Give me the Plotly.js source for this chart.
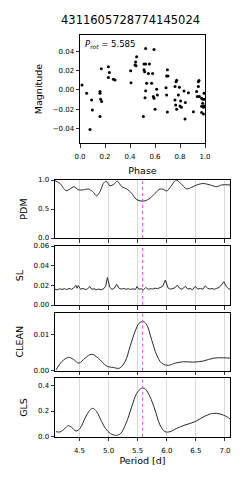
<!DOCTYPE html>
<html>
<head>
<meta charset="utf-8">
<script src="https://cdn.plot.ly/plotly-3.0.1.min.js"></script>
<style>html,body{margin:0;padding:0;background:#fff;}#chart{width:249px;height:480px;}</style>
</head>
<body>
<div id="chart"></div>
<script>
// ---- data ----
const titleText = "4311605728774145024";
const prot = 5.585;

const phase = [0.016,0.053,0.08,0.093,0.099,0.16,0.16,0.165,0.173,0.16,0.17,0.227,0.235,0.227,0.267,0.28,
  0.405,0.408,0.44,0.445,0.453,0.448,
  0.507,0.512,0.525,0.512,0.517,0.525,0.52,0.525,0.533,0.547,0.555,0.573,0.581,0.592,0.587,0.592,0.6,0.613,0.619,
  0.693,0.699,0.688,0.693,0.699,0.704,
  0.76,0.768,0.773,0.76,0.765,0.773,0.787,0.795,0.8,0.805,0.811,0.832,0.84,0.843,0.867,0.907,
  0.933,0.939,0.947,0.947,0.952,0.955,0.973,0.973,0.973,0.981,0.981,0.987,0.987,0.992,0.992,0.995];
const magnitude = [0.0052,-0.0035,-0.041,-0.0104,-0.0207,-0.0017,-0.0035,-0.0097,-0.012,-0.0276,0.022,0.024,0.018,0.013,0.011,0.0104,
  0.020,0.0076,0.026,0.029,0.0345,0.025,
  -0.0276,0.027,0.043,0.021,0.019,0.027,-0.008,-0.0007,0.0069,0.017,0.027,0.0069,0.017,0.042,-0.0069,-0.0086,-0.020,0.0007,-0.0052,
  0.0145,0.021,0.0024,-0.0052,-0.0228,0.0145,
  0.0035,0.0086,0.010,-0.0104,-0.0155,-0.020,-0.0052,0.0028,-0.0166,-0.0114,-0.018,-0.001,-0.030,-0.0131,-0.0028,-0.0225,
  -0.0017,-0.0069,0.0035,0.0086,0.0097,-0.0069,-0.0086,-0.017,-0.0235,-0.0097,-0.0138,-0.018,-0.025,-0.0035,-0.0166,-0.0097];

const pdmPeriod = [4.08,4.166,4.269,4.338,4.406,4.48,4.566,4.652,4.728,4.796,4.853,4.91,4.956,5.025,5.094,5.15,5.226,5.312,5.398,5.472,5.54,5.626,5.712,5.798,5.884,5.94,5.999,6.068,6.159,6.24,6.343,6.428,6.514,6.628,6.743,6.858,6.944,7.086];
const pdmValue = [0.99,0.94,0.815,0.845,0.885,0.83,0.83,0.845,0.80,0.725,0.80,0.94,0.98,0.90,0.93,0.98,0.885,0.845,0.77,0.67,0.64,0.64,0.685,0.77,0.845,0.84,0.81,0.885,1.0,0.94,0.845,0.875,0.915,0.94,0.915,0.885,0.915,0.915];

const slPeriod = [4.08,4.12,4.16,4.20,4.24,4.28,4.32,4.36,4.40,4.44,4.46,4.48,4.52,4.56,4.60,4.64,4.68,4.71,4.75,4.79,4.83,4.87,4.91,4.95,4.98,5.02,5.06,5.10,5.14,5.18,5.22,5.26,5.30,5.34,5.38,5.42,5.46,5.49,5.52,5.56,5.60,5.64,5.68,5.72,5.76,5.80,5.84,5.88,5.93,5.975,6.02,6.06,6.10,6.14,6.18,6.22,6.26,6.32,6.36,6.40,6.44,6.49,6.53,6.58,6.62,6.66,6.70,6.74,6.78,6.82,6.86,6.90,6.94,6.98,7.02,7.06,7.09];
const slValue = [0.016,0.0155,0.0165,0.0158,0.0166,0.0157,0.0168,0.016,0.0172,0.0200,0.0170,0.0197,0.0160,0.0168,0.0158,0.0165,0.0188,0.0160,0.0165,0.0156,0.0162,0.0155,0.0163,0.0190,0.0280,0.0180,0.0158,0.0172,0.0210,0.0170,0.0162,0.0168,0.0160,0.0166,0.0158,0.0165,0.0157,0.0188,0.0160,0.0165,0.0155,0.0178,0.0160,0.0166,0.0162,0.0172,0.0165,0.0175,0.0190,0.0254,0.0175,0.0160,0.0168,0.0175,0.0202,0.0170,0.0160,0.0190,0.0162,0.0168,0.0155,0.0190,0.0162,0.0168,0.0160,0.0195,0.0172,0.0162,0.0168,0.0160,0.0170,0.0178,0.0205,0.0237,0.0190,0.0165,0.0160];

const cleanPeriod = [4.097,4.195,4.308,4.394,4.492,4.595,4.71,4.824,4.968,5.082,5.185,5.283,5.369,5.454,5.528,5.597,5.655,5.741,5.827,5.913,6.026,6.142,6.284,6.456,6.628,6.8,6.971,7.086];
const cleanValue = [0.0002,0.0025,0.0037,0.0032,0.0021,0.0035,0.0046,0.0035,0.0013,0.0009,0.0007,0.0025,0.0067,0.0109,0.0133,0.0137,0.0128,0.0086,0.0044,0.0021,0.0015,0.0021,0.0025,0.0024,0.0027,0.0035,0.0036,0.0035];

const glsPeriod = [4.097,4.166,4.252,4.308,4.367,4.441,4.51,4.595,4.681,4.728,4.796,4.882,4.968,5.054,5.14,5.209,5.3,5.398,5.484,5.569,5.626,5.712,5.798,5.884,5.97,6.056,6.171,6.313,6.485,6.657,6.8,6.915,7.03,7.086];
const glsValue = [0.039,0.037,0.065,0.086,0.073,0.044,0.065,0.143,0.208,0.221,0.195,0.117,0.052,0.019,0.011,0.026,0.104,0.233,0.338,0.377,0.374,0.311,0.208,0.091,0.039,0.039,0.065,0.091,0.117,0.161,0.182,0.177,0.156,0.138];

const periodTicks = [4.5,5.0,5.5,6.0,6.5,7.0];

// ---- layout helpers ----
const W = 249, H = 480;
const px = v => v / W;
const py = v => 1 - v / H;
const FONT = "DejaVu Sans, Verdana, sans-serif";
const lineCol = "#2b2b2b";

function baseAxis(extra) {
  return Object.assign({
    showline: true, mirror: true, linecolor: "#000", linewidth: 1,
    ticks: "outside", ticklen: 3.5, tickwidth: 0.8, tickcolor: "#000",
    zeroline: false, showgrid: false,
    tickfont: {family: FONT, size: 7, color: "#000"},
    fixedrange: true, automargin: false
  }, extra);
}

const pxDom = [px(55), px(230)];
const pRange = [4.08, 7.086];

const traces = [
  {x: phase, y: magnitude, type: "scatter", mode: "markers", xaxis: "x", yaxis: "y",
   marker: {color: "#000", size: 3}, hoverinfo: "skip"},
  {x: pdmPeriod, y: pdmValue, type: "scatter", mode: "lines", xaxis: "x2", yaxis: "y2",
   line: {color: lineCol, width: 1, shape: "spline", smoothing: 0.8}},
  {x: slPeriod, y: slValue, type: "scatter", mode: "lines", xaxis: "x3", yaxis: "y3",
   line: {color: lineCol, width: 1}},
  {x: cleanPeriod, y: cleanValue, type: "scatter", mode: "lines", xaxis: "x4", yaxis: "y4",
   line: {color: lineCol, width: 1, shape: "spline", smoothing: 1}},
  {x: glsPeriod, y: glsValue, type: "scatter", mode: "lines", xaxis: "x5", yaxis: "y5",
   line: {color: lineCol, width: 1, shape: "spline", smoothing: 1}}
];

function periodAxis(anchor, showLabels) {
  return baseAxis({
    domain: pxDom, range: pRange, anchor: anchor,
    tickvals: periodTicks, tickformat: ".1f", showticklabels: showLabels,
    ticklabelstandoff: 3,
    showgrid: true, gridcolor: "#d9d9d9", gridwidth: 1
  });
}
function ylab(text) {
  return {text: text, font: {family: FONT, size: 9.5, color: "#000"}, standoff: 8};
}

const layout = {
  width: W, height: H, autosize: false,
  margin: {l: 0, r: 0, t: 0, b: 0},
  paper_bgcolor: "#fff", plot_bgcolor: "#fff",
  showlegend: false,
  font: {family: FONT, color: "#000"},
  xaxis: baseAxis({domain: [px(80), px(205)], range: [0, 1], anchor: "y",
    tickvals: [0, 0.2, 0.4, 0.6, 0.8, 1.0], tickformat: ".1f", ticklabelstandoff: 3,
    title: {text: "Phase", font: {family: FONT, size: 9.5, color: "#000"}, standoff: 6.5}}),
  yaxis: baseAxis({domain: [py(143), py(35)], range: [-0.055, 0.057], anchor: "x",
    tickvals: [-0.04, -0.02, 0, 0.02, 0.04], tickformat: ".2f",
    title: ylab("Magnitude")}),
  xaxis2: periodAxis("y2", false),
  yaxis2: baseAxis({domain: [py(238), py(180)], range: [0, 1], anchor: "x2",
    tickvals: [0, 0.5, 1.0], tickformat: ".1f", title: ylab("PDM")}),
  xaxis3: periodAxis("y3", false),
  yaxis3: baseAxis({domain: [py(305), py(246)], range: [0, 0.06], anchor: "x3",
    tickvals: [0, 0.02, 0.04, 0.06], tickformat: ".2f", title: ylab("SL")}),
  xaxis4: periodAxis("y4", false),
  yaxis4: baseAxis({domain: [py(370.7), py(312.7)], range: [0, 0.0162], anchor: "x4",
    tickvals: [0, 0.01], tickformat: ".2f", title: ylab("CLEAN")}),
  xaxis5: Object.assign(periodAxis("y5", true),
    {title: {text: "Period [d]", font: {family: FONT, size: 9.5, color: "#000"}, standoff: 3.5}}),
  yaxis5: baseAxis({domain: [py(436.7), py(378.3)], range: [0, 0.455], anchor: "x5",
    tickvals: [0, 0.2, 0.4], tickformat: ".1f", title: ylab("GLS")}),
  annotations: [
    {text: titleText, xref: "paper", yref: "paper", x: px(130), y: py(20),
     xanchor: "center", yanchor: "middle", showarrow: false,
     font: {family: FONT, size: 11.5, color: "#000"}},
    {text: "<i>P</i><sub><i>rot</i></sub> = " + prot.toFixed(3), xref: "x domain", yref: "y domain",
     x: 0.02, y: 0.985, xanchor: "left", yanchor: "top", showarrow: false,
     font: {family: FONT, size: 8.5, color: "#000"}}
  ],
  shapes: ["2", "3", "4", "5"].map(k => ({
    type: "line", xref: "x" + k, yref: "y" + k + " domain",
    x0: prot, x1: prot, y0: 0, y1: 1,
    line: {color: "#ee44ee", width: 1, dash: "dot"}
  }))
};

Plotly.newPlot("chart", traces, layout, {staticPlot: true, displayModeBar: false});
</script>
</body>
</html>
